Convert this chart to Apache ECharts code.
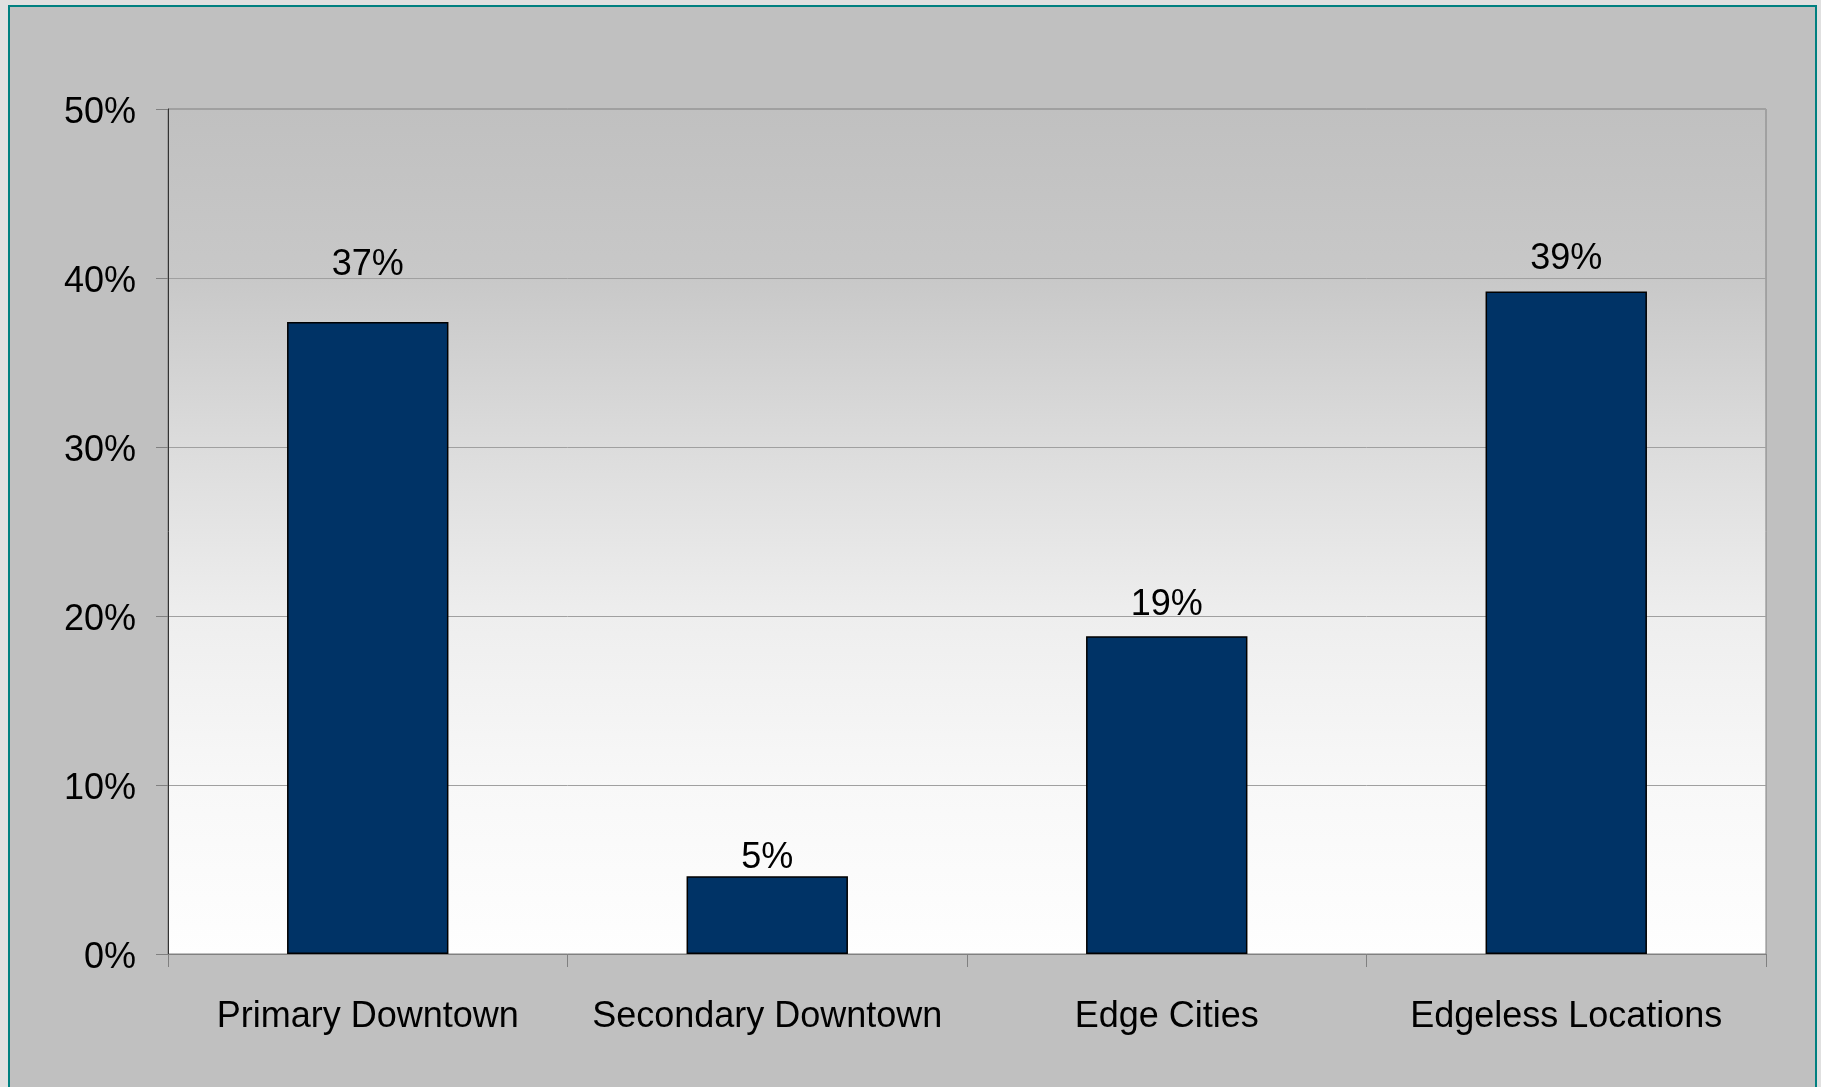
<!DOCTYPE html>
<html>
<head>
<meta charset="utf-8">
<title>Share by location type</title>
<script src="https://cdn.jsdelivr.net/npm/echarts@6/dist/echarts.min.js"></script>
<style>
  html, body { margin: 0; padding: 0; width: 1821px; height: 1087px; overflow: hidden; background: #e0e0e0; }
  #frame { position: absolute; left: 8px; top: 5px; width: 1805px; height: 1100px;
           border: 2px solid #008080; background: #c0c0c0; }
  #chart { position: absolute; left: 0; top: 0; width: 1821px; height: 1087px; }
</style>
</head>
<body>
<div id="frame"></div>
<div id="chart"></div>
<script>
// Location categories and their shares (percent)
const categories = ['Primary Downtown', 'Secondary Downtown', 'Edge Cities', 'Edgeless Locations'];
const shares = [37.4, 4.6, 18.8, 39.2];
const yTicks = [0, 10, 20, 30, 40, 50];

// label gap above each bar, px
const labelGap = [39, 0, 13, 14];

const FONT = '"Liberation Sans", Arial, sans-serif';

const chart = echarts.init(document.getElementById('chart'), null, { renderer: 'canvas' });

chart.setOption({
  backgroundColor: 'transparent',
  animation: false,
  grid: {
    left: 168, top: 109, width: 1598, height: 845,
    show: true,
    borderColor: '#808080',
    borderWidth: 1,
    backgroundColor: {
      type: 'linear', x: 0, y: 0, x2: 0, y2: 1,
      colorStops: [
        { offset: 0, color: '#c0c0c0' },
        { offset: 0.2, color: '#c8c8c8' },
        { offset: 0.4, color: '#dcdcdc' },
        { offset: 0.6, color: '#eeeeee' },
        { offset: 0.8, color: '#f8f8f8' },
        { offset: 1, color: '#fefefe' }
      ]
    }
  },
  xAxis: {
    type: 'category',
    data: categories,
    boundaryGap: true,
    axisLine: { show: true, lineStyle: { color: '#808080', width: 1 } },
    axisTick: { show: true, length: 13, lineStyle: { color: '#808080' } },
    axisLabel: { margin: 45, color: '#000', fontFamily: FONT, fontSize: 36, interval: 0 },
    splitLine: { show: false }
  },
  yAxis: {
    type: 'value',
    min: yTicks[0],
    max: yTicks[yTicks.length - 1],
    interval: yTicks[1] - yTicks[0],
    axisLine: { show: true, lineStyle: { color: '#333333', width: 1 } },
    axisTick: { show: true, length: 12, lineStyle: { color: '#808080' } },
    axisLabel: {
      margin: 32, color: '#000', fontFamily: FONT, fontSize: 36,
      verticalAlign: 'top',
      lineHeight: 9,
      formatter: '{value}%'
    },
    splitLine: { show: true, lineStyle: { color: '#a0a0a0', width: 1 } }
  },
  series: [{
    type: 'bar',
    barWidth: '40.4%',
    data: shares.map((v, i) => ({
      value: v,
      label: { distance: labelGap[i] }
    })),
    itemStyle: { color: '#003366', borderColor: '#000000', borderWidth: 1.5 },
    label: {
      show: true,
      position: 'top',
      color: '#000',
      fontFamily: FONT,
      fontSize: 36,
      formatter: p => Math.round(p.value) + '%'
    }
  }]
});
</script>
</body>
</html>
